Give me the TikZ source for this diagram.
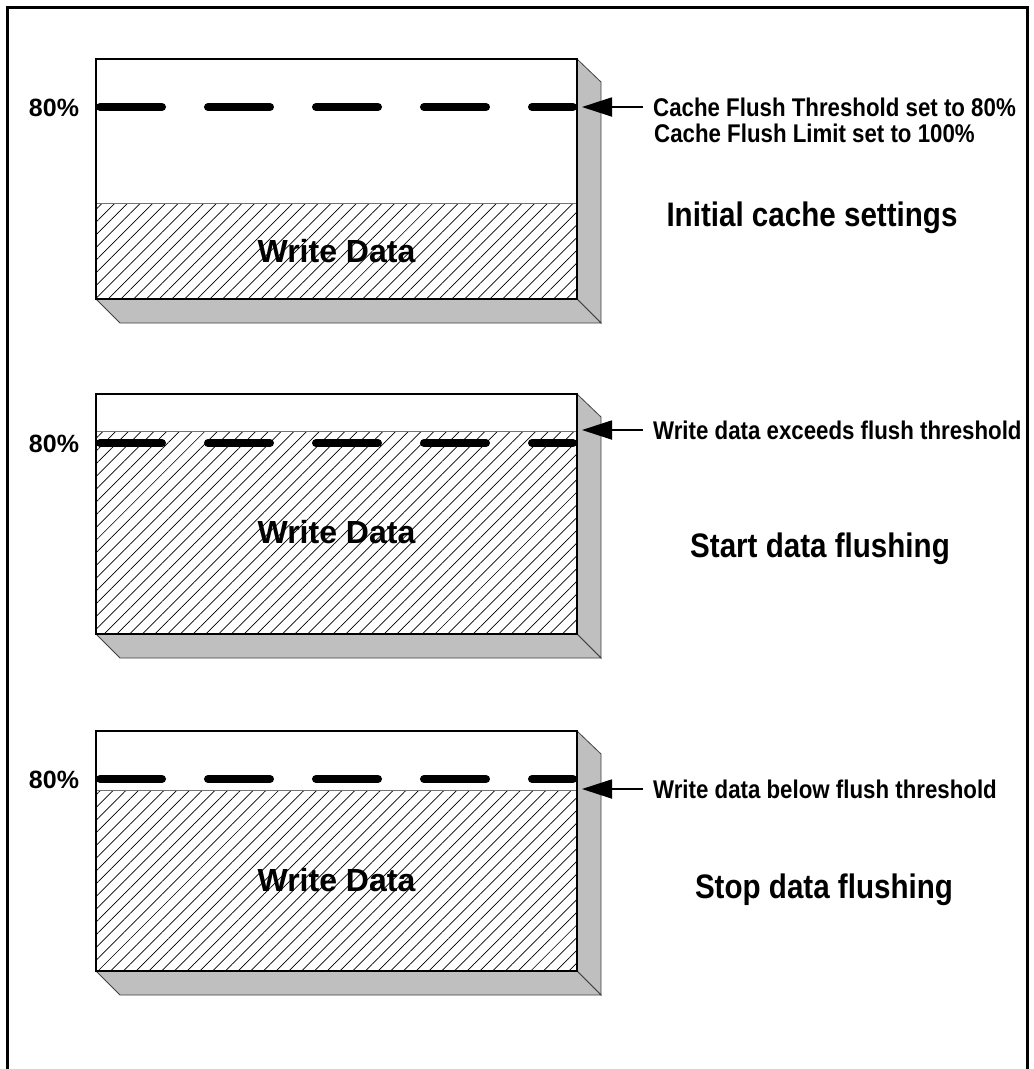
\documentclass[tikz,border=0pt]{standalone}
\usepackage{fontspec}
\setmainfont{Liberation Sans}
\newfontfamily\narrowfont[FakeStretch=0.87]{Liberation Sans}
\usepackage{tikz}
\usetikzlibrary{arrows.meta,patterns.meta,positioning}

\begin{document}
\begin{tikzpicture}[x=1pt, y=-1pt,
    face/.style={fill=black!25, draw=black!75, line width=0.8pt},
    front/.style={draw=black, line width=2.6pt},
    hatch/.style={pattern={Lines[angle=45, distance=9pt, line width=0.7pt]}},
    limit/.style={line width=8pt, line cap=round, dash pattern=on 62pt off 46pt},
    pointer/.style={-{Triangle[length=30pt, width=19pt]}, line width=1.8pt},
    note/.style={font=\narrowfont\bfseries\fontsize{25.6}{26}\selectfont, inner xsep=10pt, inner ysep=0pt},
    heading/.style={font=\narrowfont\bfseries\fontsize{34}{40}\selectfont},
    pct/.style={font=\bfseries\fontsize{25}{30}\selectfont},
    datalabel/.style={font=\bfseries\fontsize{32}{38}\selectfont}]
    \useasboundingbox (0,0) rectangle (1034,1069);

    % outer frame (open at the bottom)
    \draw[line width=3pt] (7,1069) -- (7,7) -- (1027,7) -- (1027,1069);

    % the three cache blocks: top, data level, threshold level, arrow level, row
    \foreach \ytop/\ydata/\ylim/\yarr/\row in {59/203/107/107/1, 394/431/443/430/2, 731/790/779/789/3} {
        % side and bottom faces
        \draw[face] (577,\ytop) -- (601,\ytop+23) -- (601,\ytop+264) -- (577,\ytop+240) -- cycle;
        \draw[face] (96,\ytop+240) -- (577,\ytop+240) -- (601,\ytop+264) -- (120,\ytop+264) -- cycle;
        % write data
        \fill[white] (96,\ytop) rectangle (577,\ytop+240);
        \fill[hatch] (96,\ydata) rectangle (577,\ytop+240);
        \draw[black!55, line width=1pt] (96,\ydata) -- (577,\ydata);
        \draw[front] (96,\ytop) rectangle (577,\ytop+240);
        % 80% threshold line
        \draw[limit] (100,\ylim) -- (573,\ylim);
        \node[pct] (pct\row) at (54,\ylim+1) {80\%};
        \node[datalabel] (data\row) at (336.5,{(\ydata+\ytop+240)/2}) {Write Data};
        \coordinate (tip\row) at (582,\yarr);
    }

    % Notes on the right
    \node[note, anchor=west] (thr) at (643,107) {Cache Flush Threshold set to 80\%};
    \node[note, anchor=base west] (lim) at ([xshift=1pt, yshift=-26pt]thr.base west) {Cache Flush Limit set to 100\%};
    \node[note, anchor=west] (exceed) at (643,430) {Write data exceeds flush threshold};
    \node[note, anchor=west] (below) at (643,789) {Write data below flush threshold};

    \draw[pointer] (thr.west) -- (tip1);
    \draw[pointer] (exceed.west) -- (tip2);
    \draw[pointer] (below.west) -- (tip3);

    % Headings
    \node[heading] (init) at (812,218) {Initial cache settings};
    \node[heading] (start) at (820,549) {Start data flushing};
    \node[heading] (stop) at (824,890) {Stop data flushing};
\end{tikzpicture}
\end{document}
